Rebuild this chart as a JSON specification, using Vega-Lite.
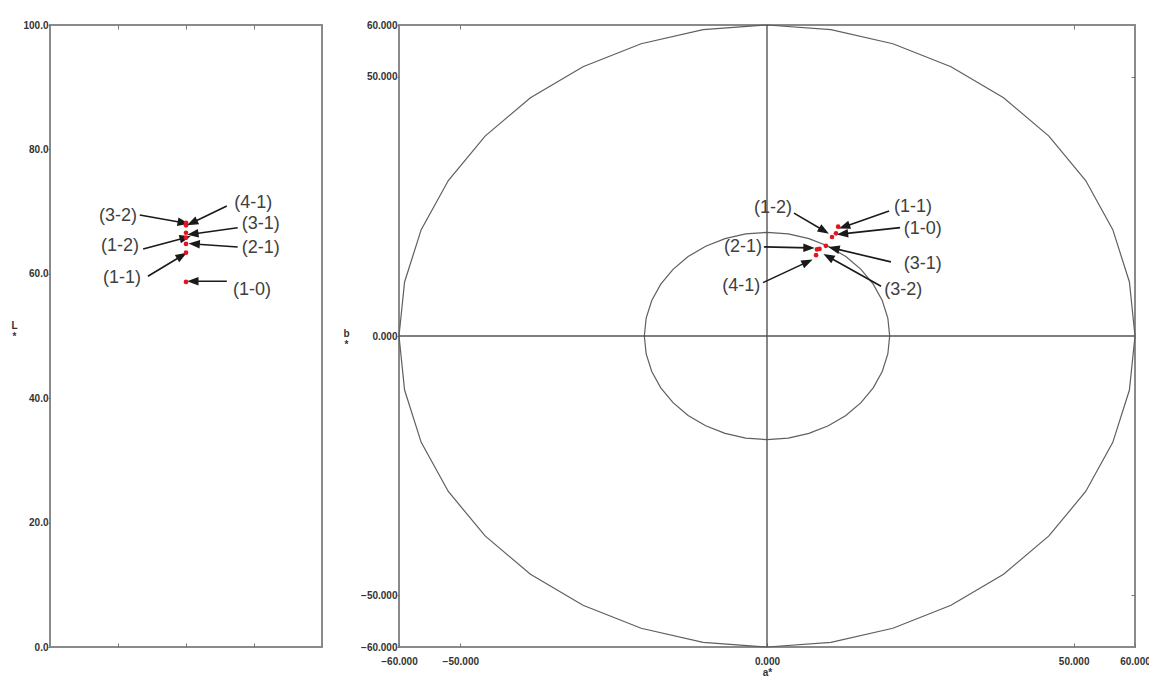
{
  "$schema": "https://vega.github.io/schema/vega-lite/v6.json",
  "padding": {"left": 9, "top": 19, "right": 0, "bottom": 0},
  "spacing": 18,
  "background": "white",
  "config": {
    "view": {"stroke": "#8a8a8a", "strokeWidth": 2},
    "axis": {
      "labelFont": "Liberation Sans", "labelFontWeight": "bold", "labelFontSize": 10, "labelColor": "#333",
      "titleFont": "Liberation Sans", "titleFontWeight": "bold", "titleFontSize": 10, "titleColor": "#333",
      "grid": false, "domain": false, "tickColor": "#777", "labelFlush": false, "labelOverlap": false
    }
  },
  "datasets": {
    "pts": [
      {"s": "(1-0)", "L": 58.7, "a": 11.25, "b": 19.8},
      {"s": "(1-1)", "L": 63.4, "a": 11.6, "b": 21.1},
      {"s": "(1-2)", "L": 65.8, "a": 10.6, "b": 19.1},
      {"s": "(2-1)", "L": 64.8, "a": 8.15, "b": 16.7},
      {"s": "(3-1)", "L": 66.6, "a": 9.6, "b": 17.4},
      {"s": "(3-2)", "L": 67.8, "a": 8.56, "b": 16.8},
      {"s": "(4-1)", "L": 68.2, "a": 8.0, "b": 15.6}
    ],
    "lann": [
      {"s": "(3-2)", "tx": 1.0, "ty": 69.3, "x1": 1.32, "y1": 69.45, "x2": 1.96, "y2": 68.2, "ang": 100.5},
      {"s": "(4-1)", "tx": 2.99, "ty": 71.4, "x1": 2.6, "y1": 70.9, "x2": 2.09, "y2": 68.2, "ang": 244},
      {"s": "(3-1)", "tx": 3.1, "ty": 68.0, "x1": 2.76, "y1": 67.4, "x2": 2.1, "y2": 66.4, "ang": 262},
      {"s": "(1-2)", "tx": 1.03, "ty": 64.5, "x1": 1.37, "y1": 64.0, "x2": 1.99, "y2": 65.8, "ang": 75},
      {"s": "(2-1)", "tx": 3.1, "ty": 64.1, "x1": 2.76, "y1": 64.3, "x2": 2.12, "y2": 64.8, "ang": 274},
      {"s": "(1-1)", "tx": 1.06, "ty": 59.3, "x1": 1.44, "y1": 59.6, "x2": 1.94, "y2": 62.9, "ang": 59.5},
      {"s": "(1-0)", "tx": 2.97, "ty": 57.4, "x1": 2.6, "y1": 58.8, "x2": 2.1, "y2": 58.8, "ang": 270}
    ],
    "rann": [
      {"s": "(1-2)", "tx": 0.98, "ty": 24.7, "x1": 4.4, "y1": 23.7, "x2": 9.3, "y2": 20.3, "ang": 121},
      {"s": "(1-1)", "tx": 23.8, "ty": 24.9, "x1": 19.9, "y1": 24.1, "x2": 12.6, "y2": 21.1, "ang": 251},
      {"s": "(1-0)", "tx": 25.4, "ty": 20.6, "x1": 21.7, "y1": 20.9, "x2": 12.3, "y2": 19.7, "ang": 264},
      {"s": "(2-1)", "tx": -3.9, "ty": 17.2, "x1": -0.5, "y1": 17.2, "x2": 6.85, "y2": 17.0, "ang": 91},
      {"s": "(3-1)", "tx": 25.4, "ty": 13.9, "x1": 20.2, "y1": 14.3, "x2": 10.9, "y2": 16.9, "ang": 283.5},
      {"s": "(4-1)", "tx": -4.2, "ty": 9.6, "x1": -0.65, "y1": 10.3, "x2": 6.6, "y2": 14.3, "ang": 65},
      {"s": "(3-2)", "tx": 22.2, "ty": 8.9, "x1": 18.6, "y1": 9.6, "x2": 10.0, "y2": 15.3, "ang": 299}
    ],
    "circ": [
      {"ring": "outer", "deg": 0, "a": 60, "b": 0},
      {"ring": "outer", "deg": 10, "a": 59.09, "b": 10.42},
      {"ring": "outer", "deg": 20, "a": 56.38, "b": 20.52},
      {"ring": "outer", "deg": 30, "a": 51.96, "b": 30},
      {"ring": "outer", "deg": 40, "a": 45.96, "b": 38.57},
      {"ring": "outer", "deg": 50, "a": 38.57, "b": 45.96},
      {"ring": "outer", "deg": 60, "a": 30, "b": 51.96},
      {"ring": "outer", "deg": 70, "a": 20.52, "b": 56.38},
      {"ring": "outer", "deg": 80, "a": 10.42, "b": 59.09},
      {"ring": "outer", "deg": 90, "a": 0, "b": 60},
      {"ring": "outer", "deg": 100, "a": -10.42, "b": 59.09},
      {"ring": "outer", "deg": 110, "a": -20.52, "b": 56.38},
      {"ring": "outer", "deg": 120, "a": -30, "b": 51.96},
      {"ring": "outer", "deg": 130, "a": -38.57, "b": 45.96},
      {"ring": "outer", "deg": 140, "a": -45.96, "b": 38.57},
      {"ring": "outer", "deg": 150, "a": -51.96, "b": 30},
      {"ring": "outer", "deg": 160, "a": -56.38, "b": 20.52},
      {"ring": "outer", "deg": 170, "a": -59.09, "b": 10.42},
      {"ring": "outer", "deg": 180, "a": -60, "b": 0},
      {"ring": "outer", "deg": 190, "a": -59.09, "b": -10.42},
      {"ring": "outer", "deg": 200, "a": -56.38, "b": -20.52},
      {"ring": "outer", "deg": 210, "a": -51.96, "b": -30},
      {"ring": "outer", "deg": 220, "a": -45.96, "b": -38.57},
      {"ring": "outer", "deg": 230, "a": -38.57, "b": -45.96},
      {"ring": "outer", "deg": 240, "a": -30, "b": -51.96},
      {"ring": "outer", "deg": 250, "a": -20.52, "b": -56.38},
      {"ring": "outer", "deg": 260, "a": -10.42, "b": -59.09},
      {"ring": "outer", "deg": 270, "a": 0, "b": -60},
      {"ring": "outer", "deg": 280, "a": 10.42, "b": -59.09},
      {"ring": "outer", "deg": 290, "a": 20.52, "b": -56.38},
      {"ring": "outer", "deg": 300, "a": 30, "b": -51.96},
      {"ring": "outer", "deg": 310, "a": 38.57, "b": -45.96},
      {"ring": "outer", "deg": 320, "a": 45.96, "b": -38.57},
      {"ring": "outer", "deg": 330, "a": 51.96, "b": -30},
      {"ring": "outer", "deg": 340, "a": 56.38, "b": -20.52},
      {"ring": "outer", "deg": 350, "a": 59.09, "b": -10.42},
      {"ring": "outer", "deg": 360, "a": 60, "b": 0},
      {"ring": "inner", "deg": 0, "a": 20, "b": 0},
      {"ring": "inner", "deg": 10, "a": 19.7, "b": 3.47},
      {"ring": "inner", "deg": 20, "a": 18.79, "b": 6.84},
      {"ring": "inner", "deg": 30, "a": 17.32, "b": 10},
      {"ring": "inner", "deg": 40, "a": 15.32, "b": 12.86},
      {"ring": "inner", "deg": 50, "a": 12.86, "b": 15.32},
      {"ring": "inner", "deg": 60, "a": 10, "b": 17.32},
      {"ring": "inner", "deg": 70, "a": 6.84, "b": 18.79},
      {"ring": "inner", "deg": 80, "a": 3.47, "b": 19.7},
      {"ring": "inner", "deg": 90, "a": 0, "b": 20},
      {"ring": "inner", "deg": 100, "a": -3.47, "b": 19.7},
      {"ring": "inner", "deg": 110, "a": -6.84, "b": 18.79},
      {"ring": "inner", "deg": 120, "a": -10, "b": 17.32},
      {"ring": "inner", "deg": 130, "a": -12.86, "b": 15.32},
      {"ring": "inner", "deg": 140, "a": -15.32, "b": 12.86},
      {"ring": "inner", "deg": 150, "a": -17.32, "b": 10},
      {"ring": "inner", "deg": 160, "a": -18.79, "b": 6.84},
      {"ring": "inner", "deg": 170, "a": -19.7, "b": 3.47},
      {"ring": "inner", "deg": 180, "a": -20, "b": 0},
      {"ring": "inner", "deg": 190, "a": -19.7, "b": -3.47},
      {"ring": "inner", "deg": 200, "a": -18.79, "b": -6.84},
      {"ring": "inner", "deg": 210, "a": -17.32, "b": -10},
      {"ring": "inner", "deg": 220, "a": -15.32, "b": -12.86},
      {"ring": "inner", "deg": 230, "a": -12.86, "b": -15.32},
      {"ring": "inner", "deg": 240, "a": -10, "b": -17.32},
      {"ring": "inner", "deg": 250, "a": -6.84, "b": -18.79},
      {"ring": "inner", "deg": 260, "a": -3.47, "b": -19.7},
      {"ring": "inner", "deg": 270, "a": 0, "b": -20},
      {"ring": "inner", "deg": 280, "a": 3.47, "b": -19.7},
      {"ring": "inner", "deg": 290, "a": 6.84, "b": -18.79},
      {"ring": "inner", "deg": 300, "a": 10, "b": -17.32},
      {"ring": "inner", "deg": 310, "a": 12.86, "b": -15.32},
      {"ring": "inner", "deg": 320, "a": 15.32, "b": -12.86},
      {"ring": "inner", "deg": 330, "a": 17.32, "b": -10},
      {"ring": "inner", "deg": 340, "a": 18.79, "b": -6.84},
      {"ring": "inner", "deg": 350, "a": 19.7, "b": -3.47},
      {"ring": "inner", "deg": 360, "a": 20, "b": 0}
    ],
    "zero": [{"v": 0}]
  },
  "hconcat": [
    {
      "width": 272,
      "height": 622,
      "layer": [
        {
          "data": {"name": "lann"},
          "mark": {"type": "rule", "stroke": "#1a1a1a", "strokeWidth": 1.6},
          "encoding": {
            "x": {"field": "x1", "type": "quantitative", "scale": {"domain": [0, 4], "nice": false, "zero": false},
                  "axis": {"orient": "bottom", "values": [1, 2, 3], "labels": false, "tickSize": -4, "title": null}},
            "y": {"field": "y1", "type": "quantitative", "scale": {"domain": [0, 100], "nice": false},
                  "axis": {"values": [0, 20, 40, 60, 80, 100], "format": ".1f", "tickSize": 2, "labelPadding": 0,
                           "title": ["L", "*"], "titleAngle": 0, "titleX": -36, "titleY": 300,
                           "titleAlign": "center", "titleBaseline": "middle", "titleLineHeight": 11}},
            "x2": {"field": "x2"},
            "y2": {"field": "y2"}
          }
        },
        {
          "data": {"name": "lann"},
          "mark": {"type": "point", "shape": "M0,-1L0.75,1L-0.75,1Z", "filled": true, "fill": "#1a1a1a", "strokeWidth": 0, "size": 130, "opacity": 1},
          "encoding": {
            "x": {"field": "x2", "type": "quantitative",
                  "axis": {"orient": "top", "values": [1, 2, 3], "labels": false, "tickSize": -4, "title": null}},
            "y": {"field": "y2", "type": "quantitative"},
            "angle": {"field": "ang", "type": "quantitative", "scale": null}
          }
        },
        {
          "data": {"name": "lann"},
          "mark": {"type": "text", "font": "Liberation Sans", "fontSize": 18, "fill": "#404040"},
          "encoding": {
            "x": {"field": "tx", "type": "quantitative", "axis": null},
            "y": {"field": "ty", "type": "quantitative"},
            "text": {"field": "s"}
          }
        },
        {
          "data": {"name": "pts"},
          "mark": {"type": "circle", "fill": "#e3141f", "size": 22, "opacity": 1},
          "encoding": {
            "x": {"datum": 2, "type": "quantitative", "axis": null},
            "y": {"field": "L", "type": "quantitative"}
          }
        }
      ],
      "resolve": {"axis": {"x": "independent"}}
    },
    {
      "width": 736,
      "height": 622,
      "layer": [
        {
          "data": {"name": "circ"},
          "mark": {"type": "line", "stroke": "#5f5f5f", "strokeWidth": 1.2},
          "encoding": {
            "x": {"field": "a", "type": "quantitative", "scale": {"domain": [-60, 60], "nice": false},
                  "axis": {"orient": "bottom", "values": [-60, -50, 0, 50, 60], "format": ".3f", "tickSize": -4, "labelPadding": 13,
                           "title": "a*", "titlePadding": 1}},
            "y": {"field": "b", "type": "quantitative", "scale": {"domain": [-60, 60], "nice": false},
                  "axis": {"orient": "left", "values": [-60, -50, 0, 50, 60], "format": ".3f", "tickSize": 2, "labelPadding": 0,
                           "title": ["b", "*"], "titleAngle": 0, "titleX": -53, "titleY": 308,
                           "titleAlign": "center", "titleBaseline": "middle", "titleLineHeight": 11}},
            "detail": {"field": "ring"},
            "order": {"field": "deg", "type": "quantitative"}
          }
        },
        {
          "data": {"name": "zero"},
          "mark": {"type": "rule", "stroke": "#555", "strokeWidth": 1.4},
          "encoding": {
            "x": {"field": "v", "type": "quantitative",
                  "axis": {"orient": "top", "values": [-50, 50], "labels": false, "tickSize": -4, "title": null}}
          }
        },
        {
          "data": {"name": "zero"},
          "mark": {"type": "rule", "stroke": "#555", "strokeWidth": 1.4},
          "encoding": {
            "y": {"field": "v", "type": "quantitative",
                  "axis": {"orient": "right", "values": [-50, 50], "labels": false, "tickSize": -4, "title": null}}
          }
        },
        {
          "data": {"name": "rann"},
          "mark": {"type": "rule", "stroke": "#1a1a1a", "strokeWidth": 1.6},
          "encoding": {
            "x": {"field": "x1", "type": "quantitative", "axis": null},
            "y": {"field": "y1", "type": "quantitative", "axis": null},
            "x2": {"field": "x2"},
            "y2": {"field": "y2"}
          }
        },
        {
          "data": {"name": "rann"},
          "mark": {"type": "point", "shape": "M0,-1L0.75,1L-0.75,1Z", "filled": true, "fill": "#1a1a1a", "strokeWidth": 0, "size": 130, "opacity": 1},
          "encoding": {
            "x": {"field": "x2", "type": "quantitative", "axis": null},
            "y": {"field": "y2", "type": "quantitative", "axis": null},
            "angle": {"field": "ang", "type": "quantitative", "scale": null}
          }
        },
        {
          "data": {"name": "rann"},
          "mark": {"type": "text", "font": "Liberation Sans", "fontSize": 18, "fill": "#404040"},
          "encoding": {
            "x": {"field": "tx", "type": "quantitative", "axis": null},
            "y": {"field": "ty", "type": "quantitative", "axis": null},
            "text": {"field": "s"}
          }
        },
        {
          "data": {"name": "pts"},
          "mark": {"type": "circle", "fill": "#e3141f", "size": 22, "opacity": 1},
          "encoding": {
            "x": {"field": "a", "type": "quantitative", "axis": null},
            "y": {"field": "b", "type": "quantitative", "axis": null}
          }
        }
      ],
      "resolve": {"axis": {"x": "independent", "y": "independent"}}
    }
  ]
}
